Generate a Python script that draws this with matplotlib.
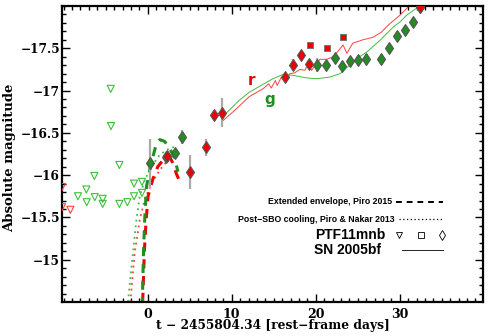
import matplotlib
matplotlib.use("Agg")
import matplotlib.pyplot as plt
import numpy as np

# ---- data ----
g_lim_t = [-8.3, -7.3, -7.26, -6.35, -6.3, -5.36, -5.36, -4.4, -4.37, -3.37, -3.37, -2.42, -1.63, -1.63, -0.68, -0.68]
g_lim_m = [-15.75, -15.83, -15.68, -15.99, -15.74, -15.72, -15.66, -17.02, -16.58, -16.12, -15.66, -15.68, -15.75, -15.90, -15.92, -15.79]
r_lim_t = [-10.2, -10.2, -9.2]
r_lim_m = [-15.86, -15.62, -15.59]

g_t = [0.32, 2.2, 3.2, 4.13, 20.15, 21.25, 22.26, 23.17, 24.1, 25.07, 26.0, 27.8, 28.7, 29.7, 30.6, 31.6, 32.4]
g_m = [-16.14, -16.22, -16.26, -16.45, -17.30, -17.30, -17.39, -17.29, -17.35, -17.36, -17.37, -17.37, -17.50, -17.65, -17.72, -17.81, -17.99]
g_e = [0.29, 0.03, 0.03, 0.08, 0.08, 0.03, 0.03, 0.03, 0.03, 0.03, 0.03, 0.03, 0.03, 0.03, 0.03, 0.03, 0.03]

r_t = [2.3, 5.08, 6.98, 7.9, 8.8, 16.3, 17.3, 18.25, 19.25, 32.4]
r_m = [-16.23, -16.04, -16.33, -16.71, -16.74, -17.16, -17.30, -17.42, -17.32, -17.99]
r_e = [0.03, 0.20, 0.10, 0.04, 0.17, 0.03, 0.07, 0.03, 0.03, 0.03]

sq_t = [19.3, 21.35, 23.2]
sq_m = [-17.54, -17.50, -17.63]

# SN 2005bf templates
bf_g_t = [8.8, 10.95, 12.1, 13.3, 14.9, 16.1, 17.3, 18.9, 20.1, 21.7, 22.9, 24.0, 25.2, 26.0, 27.6, 29.2, 30.0, 30.8, 32.2, 32.5]
bf_g_m = [-16.68, -16.89, -16.98, -17.05, -17.14, -17.19, -17.18, -17.15, -17.14, -17.16, -17.20, -17.30, -17.40, -17.45, -17.59, -17.75, -17.81, -17.89, -17.99, -18.02]
bf_r_t = [8.8, 10.5, 12.1, 13.7, 14.4, 14.7, 15.2, 15.4, 15.9, 16.4, 16.9, 17.5, 18.1, 18.7, 19.0, 19.5, 20.0, 20.5, 21.3, 22.1, 22.6, 23.25, 23.7, 24.4, 25.6, 26.8, 27.8, 28.8, 30.0, 31.0, 31.5]
bf_r_m = [-16.63, -16.78, -16.93, -17.02, -17.08, -17.03, -17.12, -17.06, -17.16, -17.12, -17.20, -17.21, -17.25, -17.24, -17.30, -17.24, -17.31, -17.37, -17.37, -17.40, -17.46, -17.54, -17.44, -17.56, -17.60, -17.63, -17.69, -17.79, -17.89, -17.99, -18.02]

# model curves
env_g_t = [-0.64, -0.5, -0.36, -0.15, 0.24, 0.63, 1.0, 1.43, 2.0, 2.6, 3.2, 3.6]
env_g_m = [-14.5, -15.1, -15.47, -15.86, -16.06, -16.22, -16.36, -16.42, -16.40, -16.32, -16.20, -16.04]
env_r_t = [-0.60, -0.4, -0.2, 0.04, 0.63, 1.2, 2.0, 2.6, 3.0, 3.4, 3.7]
env_r_m = [-14.5, -15.1, -15.45, -15.75, -15.96, -16.10, -16.20, -16.22, -16.14, -16.02, -15.95]
cool_g_t = [-2.35, -1.76, -1.35, -0.95, -0.36, 0.44, 1.43, 2.6, 3.6]
cool_g_m = [-14.5, -15.08, -15.47, -15.75, -15.94, -16.10, -16.24, -16.32, -16.34]
cool_r_t = [-2.06, -1.55, -0.95, -0.36, 0.44, 1.43, 2.6, 3.6]
cool_r_m = [-14.5, -15.08, -15.47, -15.71, -15.90, -16.06, -16.20, -16.29]

# ---- style ----
RED = '#ee0000'
GREEN = '#1f8f1f'
LGREEN = '#3cc03c'
LRED = '#ff4040'
serif = 'DejaVu Serif'

fig = plt.figure(figsize=(4.91, 3.36), dpi=100)
ax = fig.add_axes([62/491, 1-302/336, 421/491, 296/336])

ax.plot(bf_g_t, bf_g_m, color=LGREEN, lw=0.7)
ax.plot(bf_r_t, bf_r_m, color=LRED, lw=0.7)

ax.plot(cool_g_t, cool_g_m, color=LGREEN, lw=1.3, ls=(0, (1, 2.2)))
ax.plot(cool_r_t, cool_r_m, color=LRED, lw=1.3, ls=(0, (1, 2.2)))
ax.plot(env_r_t, env_r_m, color=RED, lw=2.2, ls=(0, (3, 2.5)))
ax.plot(env_g_t, env_g_m, color=GREEN, lw=2.2, ls=(1.5, (3, 2.5)))

ax.scatter(g_lim_t, g_lim_m, marker='v', s=26, facecolors='none', edgecolors=LGREEN, linewidths=0.8, zorder=3)
ax.scatter(r_lim_t, r_lim_m, marker='v', s=26, facecolors='none', edgecolors=LRED, linewidths=0.8, zorder=3)

ax.errorbar(g_t, g_m, yerr=g_e, fmt='d', ms=6.5, mfc=GREEN, mec='#555555', mew=0.8,
            ecolor='#aaaaaa', elinewidth=1.6, capsize=0, zorder=4)
ax.errorbar(r_t, r_m, yerr=r_e, fmt='d', ms=6.5, mfc=RED, mec='#555555', mew=0.8,
            ecolor='#aaaaaa', elinewidth=1.6, capsize=0, zorder=5)
ax.scatter(sq_t, sq_m, marker='s', s=20, c=RED, edgecolors='#777777', linewidths=0.7, zorder=5)

ax.text(12.4, -17.12, 'r', color=RED, fontsize=11, fontweight='bold', family='DejaVu Sans', ha='center', va='center')
ax.text(14.5, -16.89, 'g', color=GREEN, fontsize=11, fontweight='bold', family='DejaVu Sans', ha='center', va='center')

ax.set_xlim(-10.2, 39.9)
ax.set_ylim(-14.5, -18.0)
ax.set_xticks([0, 10, 20, 30])
ax.set_yticks([-15, -15.5, -16, -16.5, -17, -17.5])
ax.set_yticklabels(['\u221215', '\u221215.5', '\u221216', '\u221216.5', '\u221217', '\u221217.5'])
ax.set_xticks(np.arange(-10, 40, 1), minor=True)
ax.set_yticks(np.arange(-18.0, -14.5, 0.1), minor=True)
ax.tick_params(which='both', direction='in', top=True, right=True, width=1.0, labelsize=9)
ax.tick_params(axis='y', which='major', pad=1.5, labelsize=8.7)
ax.tick_params(axis='x', which='major', pad=4)
ax.tick_params(which='major', length=6)
ax.tick_params(which='minor', length=3)
for lab in ax.get_xticklabels() + ax.get_yticklabels():
    lab.set_family(serif)
    lab.set_fontweight('bold')
for sp in ax.spines.values():
    sp.set_linewidth(1.6)

ax.set_xlabel('t \u2212 2455804.34 [rest\u2212frame days]', family=serif, fontweight='bold', fontsize=8.8)
ax.set_ylabel('Absolute magnitude', family=serif, fontweight='bold', fontsize=9.5)
ax.xaxis.set_label_coords(0.501, -0.058)
ax.yaxis.set_label_coords(-0.108, 0.486)

# legend drawn by hand
def ax_xy(px, py):
    return ((px - 62) / 421, (302 - py) / 296)

tr = ax.transAxes
x, y = ax_xy(392, 201.5)
ax.text(x, y, 'Extended envelope, Piro 2015', transform=tr, ha='right', va='center', fontsize=6.3, fontweight='bold', family='Liberation Sans')
x1, _ = ax_xy(396, 0); x2, _ = ax_xy(443, 0)
ax.plot([x1, x2], [y, y], transform=tr, color='black', lw=1.4, ls=(0, (3, 2.5)))
x, y = ax_xy(395, 219)
ax.text(x, y, 'Post\u2212SBO cooling, Piro & Nakar 2013', transform=tr, ha='right', va='center', fontsize=6.3, fontweight='bold', family='Liberation Sans')
x1, _ = ax_xy(399, 0)
ax.plot([x1, x2], [y, y], transform=tr, color='black', lw=0.9, ls=(0, (1, 2)))
x, y = ax_xy(385, 235)
ax.text(x, y, 'PTF11mnb', transform=tr, ha='right', va='center', fontsize=10, fontweight='bold', family='Liberation Sans')
for px, m in [(399, 'v'), (421, 's'), (442, 'd')]:
    xm, _ = ax_xy(px, 0)
    ax.plot([xm], [y], transform=tr, marker=m, ms=5 if m != 's' else 4, mfc='none', mec='black', mew=0.6, ls='none')
x, y = ax_xy(381, 250)
ax.text(x, y, 'SN 2005bf', transform=tr, ha='right', va='center', fontsize=10, fontweight='bold', family='Liberation Sans')
x1, _ = ax_xy(402, 0)
ax.plot([x1, x2], [y, y], transform=tr, color='black', lw=0.6)

fig.savefig('out.png', dpi=100)
